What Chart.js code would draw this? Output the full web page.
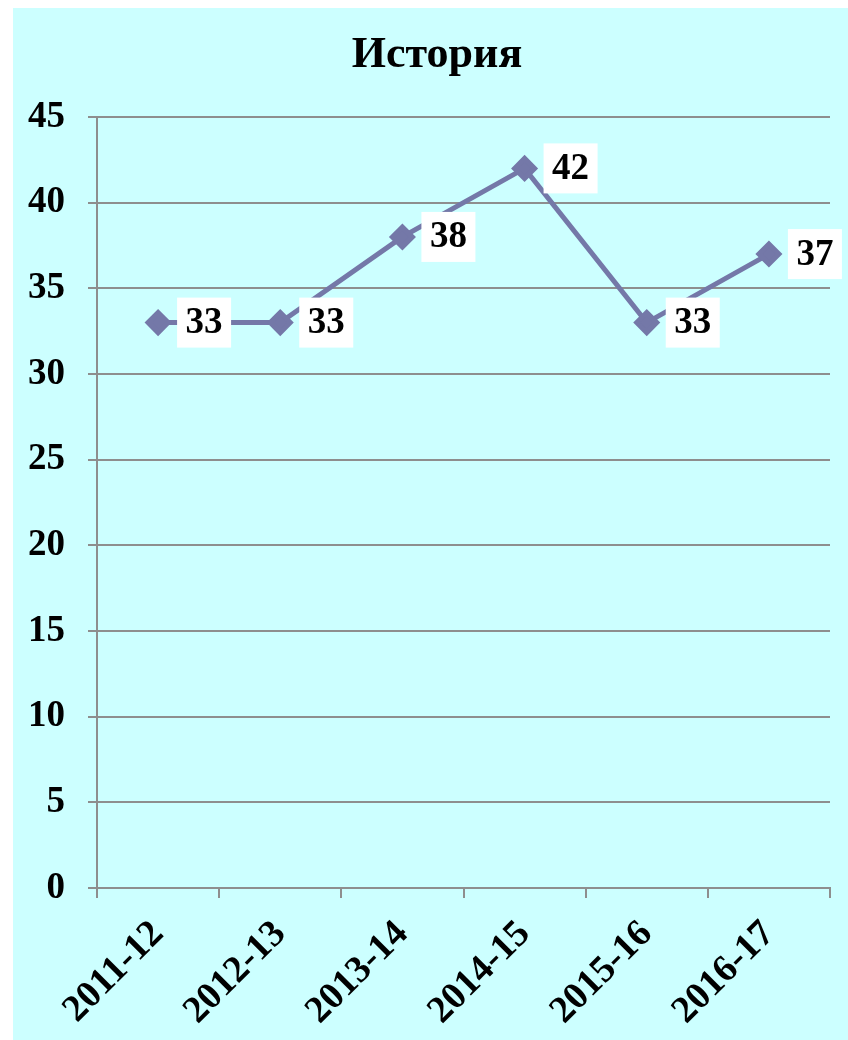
<!DOCTYPE html>
<html>
<head>
<meta charset="utf-8">
<script src="https://cdn.jsdelivr.net/npm/chart.js@4.4.0/dist/chart.umd.min.js"></script>
<style>
  html, body { margin: 0; padding: 0; background: #ffffff; }
  #wrap { position: absolute; left: 0; top: 0; width: 848px; height: 1040px; }
</style>
</head>
<body>
<div id="wrap"><canvas id="chart"></canvas></div>
<script>
// chart values
var categories = ["2011-12", "2012-13", "2013-14", "2014-15", "2015-16", "2016-17"];
var seriesValues = [33, 33, 38, 42, 33, 37];
var yTicks = [0, 5, 10, 15, 20, 25, 30, 35, 40, 45];
var chartTitle = "История";

var serif = '"Liberation Serif", "Times New Roman", serif';
var lineColor = "#7478a8";
var gridColor = "#8e8e8e";

// cyan panel behind everything, plus the title (placed off-centre like the original)
var panelBg = {
  id: "panelBg",
  beforeDraw: function(chart) {
    var ctx = chart.ctx;
    ctx.save();
    ctx.fillStyle = "#ffffff";
    ctx.fillRect(0, 0, chart.width, chart.height);
    ctx.fillStyle = "#ccffff";
    ctx.fillRect(13, 8, chart.width - 13, chart.height - 8);
    ctx.fillStyle = "#000000";
    ctx.font = "bold 44px " + serif;
    ctx.textAlign = "center";
    ctx.textBaseline = "middle";
    ctx.fillText(chartTitle, 437, 56);
    ctx.restore();
  }
};

// white boxed value labels right of each point
var valueLabels = {
  id: "valueLabels",
  afterDatasetsDraw: function(chart) {
    var ctx = chart.ctx;
    var meta = chart.getDatasetMeta(0);
    ctx.save();
    ctx.font = "bold 37px " + serif;
    ctx.textAlign = "center";
    ctx.textBaseline = "middle";
    meta.data.forEach(function(pt, i) {
      var txt = String(seriesValues[i]);
      var cx = pt.x + 46;
      var w = 54;
      ctx.fillStyle = "#ffffff";
      ctx.fillRect(cx - w / 2, pt.y - 25, w, 50);
      ctx.fillStyle = "#000000";
      ctx.fillText(txt, cx, pt.y + 1);
    });
    ctx.restore();
  }
};

new Chart(document.getElementById("chart"), {
  type: "line",
  data: {
    labels: categories,
    datasets: [{
      data: seriesValues,
      borderColor: lineColor,
      backgroundColor: lineColor,
      borderWidth: 5,
      pointStyle: "rectRot",
      pointRadius: 10,
      pointHoverRadius: 10,
      tension: 0
    }]
  },
  options: {
    responsive: true,
    maintainAspectRatio: false,
    animation: false,
    events: [],
    layout: { padding: { left: 13, top: 117, right: 18, bottom: 0 } },
    plugins: {
      legend: { display: false },
      tooltip: { enabled: false },
      title: { display: false }
    },
    scales: {
      x: {
        type: "category",
        offset: true,
        grid: {
          offset: true,
          drawOnChartArea: false,
          drawTicks: true,
          tickLength: 10,
          color: gridColor,
          lineWidth: 2
        },
        border: { color: gridColor, width: 2 },
        ticks: {
          color: "#000000",
          font: { family: serif, size: 38, weight: "bold" },
          minRotation: 45,
          maxRotation: 45,
          autoSkip: false,
          padding: 14
        },
        afterFit: function(scale) { scale.height = 152; }
      },
      y: {
        min: 0,
        max: 45,
        grid: {
          color: gridColor,
          lineWidth: 2,
          tickLength: 9
        },
        border: { color: gridColor, width: 2 },
        afterBuildTicks: function(scale) {
          scale.ticks = yTicks.map(function(v) { return { value: v }; });
        },
        ticks: {
          color: "#000000",
          font: { family: serif, size: 37, weight: "bold" },
          padding: 23
        },
        afterFit: function(scale) { scale.width = 84; }
      }
    }
  },
  plugins: [panelBg, valueLabels]
});
</script>
</body>
</html>
